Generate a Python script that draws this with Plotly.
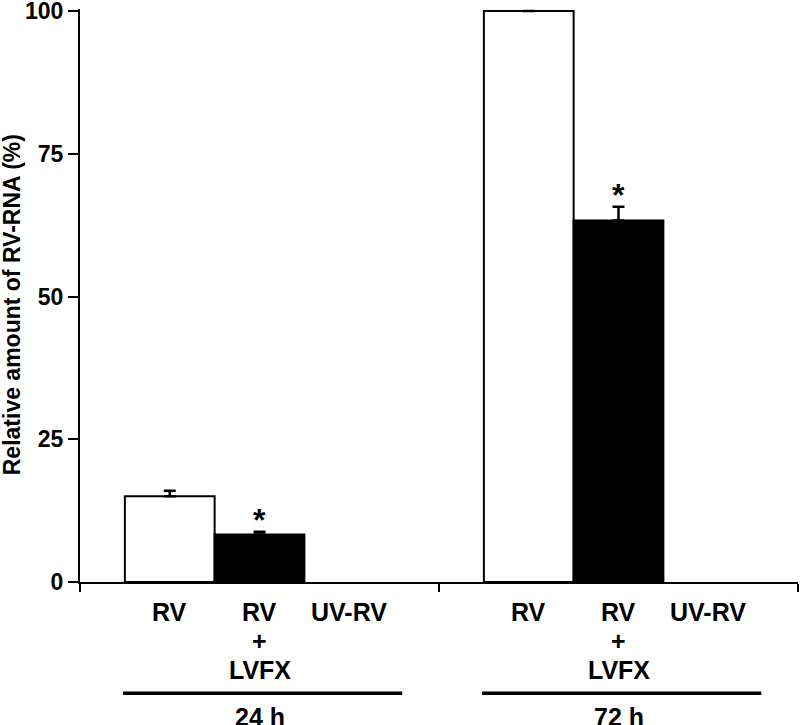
import plotly.graph_objects as go

# data
groups = ["24 h", "72 h"]
conditions = ["RV", "RV<br>+<br>LVFX", "UV-RV"]
rv_vals = [15.0, 100.0]
rv_err = [1.0, None]
lvfx_vals = [8.3, 63.3]
lvfx_err = [0.5, 2.4]
uv_vals = [0.0, 0.0]
signif = [True, True]  # asterisk over RV + LVFX

font = "Liberation Sans, Arial, Helvetica, sans-serif"

# each group occupies 4 x-units, bars of width 1 at offsets 1, 2, 3
group_start = [0, 4]
rv_x = [g + 1 for g in group_start]
lvfx_x = [g + 2 for g in group_start]
uv_x = [g + 3 for g in group_start]

fig = go.Figure()
fig.add_trace(go.Bar(
    x=rv_x, y=rv_vals, width=1,
    marker=dict(color="white", line=dict(color="black", width=2)),
    error_y=dict(type="data", array=rv_err, arrayminus=[0, 0], color="black", thickness=2.5, width=6),
    cliponaxis=False,
))
fig.add_trace(go.Bar(
    x=lvfx_x, y=lvfx_vals, width=1,
    marker=dict(color="black", line=dict(color="black", width=2)),
    error_y=dict(type="data", array=lvfx_err, arrayminus=[0, 0], color="black", thickness=2.5, width=6),
    cliponaxis=False,
))
fig.add_trace(go.Bar(
    x=uv_x, y=uv_vals, width=1,
    marker=dict(color="black", line=dict(width=0)),
))

annotations = []
# category labels, one annotation per line
for g in group_start:
    for i, lab in enumerate(conditions):
        for k, part in enumerate(lab.split("<br>")):
            annotations.append(dict(
                x=g + 1 + i, xref="x", y=-0.053, yref="paper", yanchor="middle",
                yshift=-29 * k,
                text="<b>%s</b>" % part, showarrow=False,
                font=dict(family=font, size=25, color="black"),
            ))
# group labels
for g, name in zip(group_start, groups):
    annotations.append(dict(
        x=g + 2, xref="x", y=-0.235, yref="paper", yanchor="middle",
        text="<b>%s</b>" % name, showarrow=False,
        font=dict(family=font, size=25, color="black"),
    ))
# asterisks
for x, v, e, s in zip(lvfx_x, lvfx_vals, lvfx_err, signif):
    if s:
        annotations.append(dict(
            x=x, xref="x", y=v + e, yref="y", yanchor="bottom", yshift=-8,
            text="<b>*</b>", showarrow=False,
            font=dict(family=font, size=32, color="black"),
        ))
# y axis title
annotations.append(dict(
    x=0, xref="paper", xshift=-68, y=0.483, yref="paper",
    xanchor="center", yanchor="middle", textangle=-90,
    text="<b>Relative amount of RV-RNA (%)</b>", showarrow=False,
    font=dict(family=font, size=23, color="black"),
))

shapes = []
for g in group_start:
    shapes.append(dict(
        type="line", xref="x", yref="paper",
        x0=g + 0.48, x1=g + 3.59, y0=-0.194, y1=-0.194,
        line=dict(color="black", width=3.5),
    ))

fig.update_layout(
    width=800, height=725,
    margin=dict(l=80, r=2, t=9, b=143),
    paper_bgcolor="white", plot_bgcolor="white",
    barmode="overlay", showlegend=False,
    annotations=annotations, shapes=shapes,
    xaxis=dict(
        range=[0, 8], tickvals=[0, 4, 8], showticklabels=False,
        ticks="outside", ticklen=8, tickwidth=2, tickcolor="black",
        showline=True, linecolor="black", linewidth=2,
        showgrid=False, zeroline=False, fixedrange=True,
    ),
    yaxis=dict(
        range=[0, 100.35], tickvals=[0, 25, 50, 75, 100],
        ticktext=["<b>0</b>", "<b>25</b>", "<b>50</b>", "<b>75</b>", "<b>100</b>"],
        ticks="outside", ticklen=10, tickwidth=2, tickcolor="black",
        tickfont=dict(family=font, size=23, color="black"),
        ticklabeloverflow="allow", automargin=False,
        showline=True, linecolor="black", linewidth=2,
        showgrid=False, zeroline=False, fixedrange=True,
    ),
)

fig.write_html("out.html", config={"displayModeBar": False},
               post_script="document.body.style.margin='0';")
